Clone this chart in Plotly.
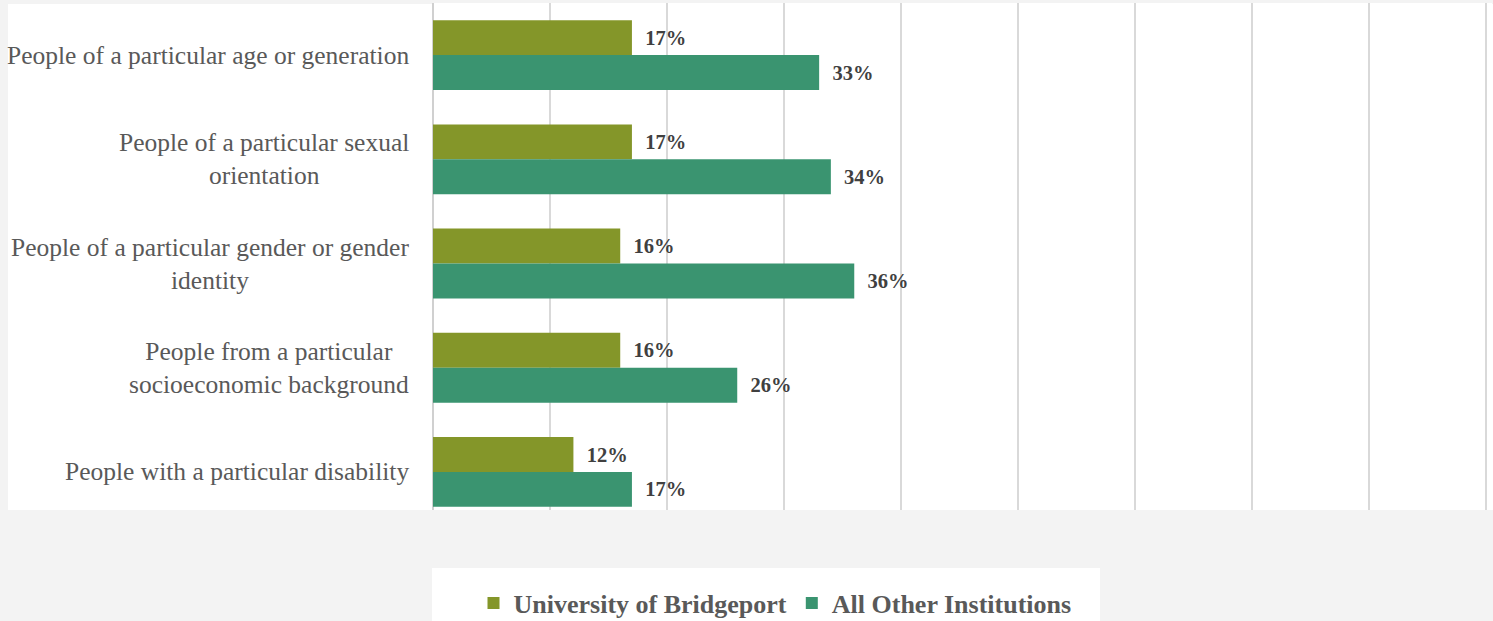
import plotly.graph_objects as go

categories = [
    "People of a particular age or generation",
    "People of a particular sexual<br>orientation",
    "People of a particular gender or gender<br>identity",
    "People from a particular<br>socioeconomic background",
    "People with a particular disability",
]
bridgeport = [17, 17, 16, 16, 12]
others = [33, 34, 36, 26, 17]
series_names = ["University of Bridgeport", "All Other Institutions"]
colors = ["#849629", "#3A9470"]

W, H = 1493, 621
L, R, T, B = 433, 1, 3, 111
pw = W - L - R
ph = H - T - B

ypos = list(range(len(categories)))

fig = go.Figure()
for name, vals, col in zip(series_names, [bridgeport, others], colors):
    fig.add_trace(go.Bar(
        y=ypos, x=vals, name=name, orientation="h",
        marker=dict(color=col, line=dict(width=0)),
        text=[f"\u00a0\u00a0{v}%" for v in vals],
        textposition="outside", cliponaxis=False,
        textfont=dict(family="Liberation Serif", size=20.5, color="#404040", weight="bold"),
        hoverinfo="skip",
    ))

def px_x(p):
    return (p - L) / pw

def px_y(p):
    return (H - B - p) / ph

shapes = [
    dict(type="rect", xref="paper", yref="paper", x0=px_x(8), x1=px_x(1493),
         y0=0, y1=px_y(4), fillcolor="white", line=dict(width=0), layer="below"),
    dict(type="rect", xref="paper", yref="paper", x0=px_x(432), x1=px_x(1100),
         y0=px_y(630), y1=px_y(568), fillcolor="white", line=dict(width=0), layer="below"),
]

annotations = []
for i, c in enumerate(categories):
    annotations.append(dict(
        x=px_x(411), xref="paper", y=i, yref="y", text=c, showarrow=False,
        xanchor="right", yanchor="middle", align="center",
        font=dict(family="Liberation Serif", size=25.5, color="#595959"),
    ))

fig.update_layout(
    width=W, height=H,
    margin=dict(l=L, r=R, t=T, b=B, autoexpand=False),
    paper_bgcolor="#f3f3f3",
    plot_bgcolor="white",
    barmode="group", bargap=0.33, bargroupgap=0,
    shapes=shapes, annotations=annotations,
    showlegend=True,
    legend=dict(
        orientation="h", x=px_x(775), xanchor="center", y=px_y(603), yanchor="middle",
        bgcolor="rgba(0,0,0,0)",
        font=dict(family="Liberation Serif", size=26, color="#595959", weight="bold"),
        itemsizing="constant",
    ),
    xaxis=dict(range=[0, 90.5], dtick=10, showticklabels=False, showgrid=True,
               gridcolor="#d9d9d9", gridwidth=1.5, zeroline=True, zerolinecolor="#d0d0d0",
               zerolinewidth=1.5, ticks=""),
    yaxis=dict(range=[4.365, -0.5], showticklabels=False, showgrid=False, zeroline=False,
               ticks=""),
)

fig.write_html(
    "out.html",
    config={"displayModeBar": False},
    post_script="document.body.style.margin='0';document.body.style.overflow='hidden';",
)
